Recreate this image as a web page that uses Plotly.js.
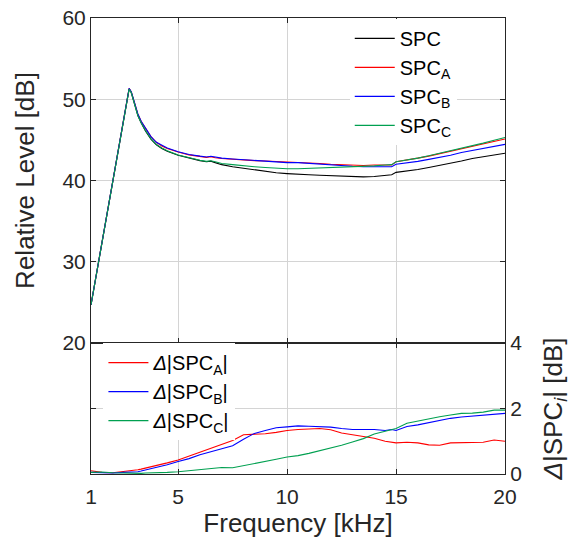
<!DOCTYPE html>
<html>
<head>
<meta charset="utf-8">
<script src="https://cdn.plot.ly/plotly-3.0.1.min.js"></script>
<style>html,body{margin:0;padding:0;background:#fff;}#chart{width:574px;height:544px;}</style>
</head>
<body>
<div id="chart"></div>
<script>
// Frequency [kHz]
const freq = [1, 1.5, 2, 2.5, 2.65, 2.75, 2.85, 3, 3.15, 3.3, 3.5, 3.75, 4, 4.25, 4.5, 5, 5.5, 6, 6.3, 6.5, 6.7, 7, 7.5, 8, 8.5, 9, 9.5, 10, 10.5, 11, 11.5, 12, 12.5, 13, 13.5, 14, 14.5, 14.8, 15, 15.5, 16, 16.5, 17, 17.5, 18, 18.5, 19, 19.5, 20];

// Relative level [dB]
const spc  = [24.7, 32.4, 40.1, 47.8, 50.2, 51.25, 50.8, 49.3, 48.0, 47.1, 46.1, 45.1, 44.4, 43.95, 43.6, 43.1, 42.75, 42.45, 42.3, 42.38, 42.2, 41.95, 41.7, 41.5, 41.3, 41.1, 40.95, 40.85, 40.75, 40.7, 40.65, 40.6, 40.5, 40.45, 40.45, 40.5, 40.6, 40.7, 41.0, 41.15, 41.35, 41.6, 41.85, 42.1, 42.4, 42.7, 42.9, 43.15, 43.35];
const spcA = [24.7, 32.4, 40.1, 47.8, 50.2, 51.35, 50.9, 49.4, 48.2, 47.3, 46.4, 45.4, 44.7, 44.25, 43.95, 43.5, 43.15, 42.95, 42.85, 42.93, 42.8, 42.7, 42.6, 42.5, 42.45, 42.4, 42.35, 42.3, 42.25, 42.15, 42.1, 42.0, 41.95, 41.9, 41.85, 41.9, 41.95, 41.9, 42.3, 42.5, 42.75, 43.0, 43.3, 43.6, 43.9, 44.2, 44.5, 44.8, 45.1];
const spcB = [24.7, 32.4, 40.1, 47.8, 50.2, 51.35, 50.9, 49.4, 48.2, 47.3, 46.4, 45.4, 44.7, 44.3, 44.0, 43.55, 43.2, 43.0, 42.9, 42.98, 42.85, 42.75, 42.65, 42.55, 42.45, 42.35, 42.3, 42.2, 42.2, 42.1, 42.0, 41.9, 41.8, 41.75, 41.7, 41.7, 41.75, 41.7, 42.0, 42.15, 42.35, 42.6, 42.85, 43.1, 43.45, 43.7, 43.95, 44.2, 44.45];
const spcC = [24.7, 32.4, 40.1, 47.8, 50.2, 51.25, 50.8, 49.3, 48.0, 47.1, 46.15, 45.15, 44.45, 44.0, 43.65, 43.15, 42.8, 42.5, 42.35, 42.43, 42.3, 42.1, 41.95, 41.8, 41.7, 41.6, 41.5, 41.45, 41.45, 41.5, 41.5, 41.55, 41.6, 41.65, 41.7, 41.8, 41.9, 41.95, 42.3, 42.5, 42.75, 43.05, 43.35, 43.7, 44.0, 44.3, 44.6, 44.95, 45.3];

// Delta |SPC_i| [dB]
const dA = [0.1, 0.05, 0.04, 0.07, 0.08, 0.09, 0.1, 0.12, 0.13, 0.15, 0.18, 0.21, 0.25, 0.3, 0.34, 0.43, 0.55, 0.66, 0.72, 0.78, 0.82, 0.89, 1.02, 1.2, 1.21, 1.23, 1.27, 1.33, 1.36, 1.38, 1.39, 1.35, 1.25, 1.2, 1.15, 1.09, 1.0, 0.96, 0.95, 0.97, 0.95, 0.89, 0.88, 0.95, 0.96, 0.98, 0.97, 1.04, 1.0];
const dB = [0.05, 0.03, 0.03, 0.05, 0.05, 0.05, 0.06, 0.06, 0.07, 0.09, 0.12, 0.15, 0.19, 0.23, 0.28, 0.38, 0.47, 0.59, 0.64, 0.69, 0.72, 0.77, 0.86, 1.06, 1.24, 1.33, 1.41, 1.44, 1.47, 1.46, 1.45, 1.43, 1.39, 1.36, 1.36, 1.36, 1.33, 1.36, 1.33, 1.45, 1.5, 1.57, 1.64, 1.7, 1.74, 1.77, 1.8, 1.83, 1.85];
const dC = [0.05, 0.06, 0.04, 0.03, 0.03, 0.03, 0.02, 0.02, 0.02, 0.02, 0.03, 0.03, 0.03, 0.04, 0.05, 0.07, 0.1, 0.14, 0.15, 0.17, 0.18, 0.2, 0.19, 0.25, 0.31, 0.37, 0.45, 0.52, 0.56, 0.63, 0.71, 0.8, 0.88, 0.98, 1.08, 1.22, 1.3, 1.35, 1.39, 1.55, 1.62, 1.7, 1.75, 1.8, 1.85, 1.86, 1.89, 1.95, 1.95];

const xTicks = [1, 5, 10, 15, 20];
const yTicks = [20, 30, 40, 50, 60];
const y2Ticks = [0, 2, 4];

const cBlack = '#000000', cRed = '#ff0000', cBlue = '#0000ff', cGreen = '#00a050';
const FONT = '"Liberation Sans", Arial, sans-serif';
const TXT = '#262626';
const GRID = '#d4d4d4';
const AX = '#262626';

const mkTop = (name, y, color) => ({x: freq, y: y, name: name, type: 'scatter', mode: 'lines',
  xaxis: 'x2', yaxis: 'y', line: {color: color, width: 1.1}, legend: 'legend'});
const mkBot = (name, y, color) => ({x: freq, y: y, name: name, type: 'scatter', mode: 'lines',
  xaxis: 'x', yaxis: 'y2', line: {color: color, width: 1.1}, legend: 'legend2'});

const traces = [
  mkTop('SPC', spc, cBlack),
  mkTop('SPC<sub>A</sub>', spcA, cRed),
  mkTop('SPC<sub>B</sub>', spcB, cBlue),
  mkTop('SPC<sub>C</sub>', spcC, cGreen),
  mkBot('<i>Δ</i>|SPC<sub>A</sub>|', dA, cRed),
  mkBot('<i>Δ</i>|SPC<sub>B</sub>|', dB, cBlue),
  mkBot('<i>Δ</i>|SPC<sub>C</sub>|', dC, cGreen)
];

const split = 131 / 456;

const layout = {
  width: 574, height: 544,
  margin: {l: 91, r: 69, t: 18, b: 70},
  paper_bgcolor: '#fff', plot_bgcolor: '#fff',
  font: {family: FONT, color: TXT, size: 20},
  showlegend: true,
  xaxis: {
    domain: [0, 1], anchor: 'y2', range: [1, 20], tickvals: xTicks, ticktext: xTicks.map(String),
    showline: true, linecolor: AX, linewidth: 1, mirror: 'ticks', ticks: 'inside', ticklen: 5, tickcolor: AX,
    showgrid: true, gridcolor: GRID, zeroline: false, ticklabelstandoff: 4,
    tickfont: {size: 21, family: FONT, color: TXT},
    title: {text: 'Frequency [kHz]', font: {size: 26, family: FONT, color: TXT}, standoff: 4}
  },
  xaxis2: {
    domain: [0, 1], anchor: 'y', matches: 'x', range: [1, 20], tickvals: xTicks, showticklabels: false,
    showline: true, linecolor: AX, linewidth: 1, mirror: 'ticks', ticks: 'inside', ticklen: 5, tickcolor: AX,
    showgrid: true, gridcolor: GRID, zeroline: false
  },
  yaxis: {
    domain: [split, 1], anchor: 'x2', range: [20, 60], tickvals: yTicks, ticktext: yTicks.map(String),
    showline: true, linecolor: AX, linewidth: 1, mirror: 'ticks', ticks: 'inside', ticklen: 5, tickcolor: AX,
    showgrid: true, gridcolor: GRID, zeroline: false,
    tickfont: {size: 21, family: FONT, color: TXT},
    title: {text: 'Relative Level [dB]', font: {size: 26, family: FONT, color: TXT}, standoff: 20}
  },
  yaxis2: {
    domain: [0, split], anchor: 'x', side: 'right', range: [0, 4], tickvals: y2Ticks, ticktext: y2Ticks.map(String),
    showline: true, linecolor: AX, linewidth: 1, mirror: 'ticks', ticks: 'inside', ticklen: 5, tickcolor: AX,
    showgrid: true, gridcolor: GRID, zeroline: false,
    tickfont: {size: 21, family: FONT, color: TXT},
    title: {text: '<i>Δ</i>|SPC<sub><i>i</i></sub>| [dB]', font: {size: 26, family: FONT, color: TXT}, standoff: 22}
  },
  legend: {
    x: 0.625, y: 0.998, xanchor: 'left', yanchor: 'top',
    bgcolor: '#ffffff', borderwidth: 0, font: {size: 20, family: FONT, color: '#000'},
    itemwidth: 40, tracegroupgap: 0
  },
  legend2: {
    x: 0.03, y: 0.287, xanchor: 'left', yanchor: 'top',
    bgcolor: '#ffffff', borderwidth: 0, font: {size: 20, family: FONT, color: '#000'},
    itemwidth: 40, tracegroupgap: 0
  }
};

Plotly.newPlot('chart', traces, layout, {displayModeBar: false, staticPlot: true});
</script>
</body>
</html>
